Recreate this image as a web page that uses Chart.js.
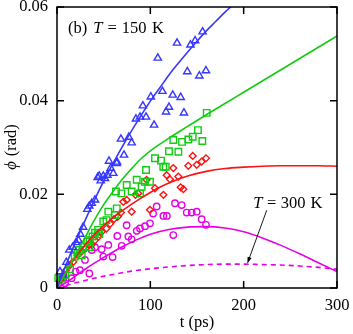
<!DOCTYPE html>
<html><head><meta charset="utf-8">
<script src="https://cdn.jsdelivr.net/npm/chart.js@4.4.1/dist/chart.umd.min.js"></script>
<style>html,body{margin:0;padding:0;background:#fff;}#wrap{width:353px;height:334px;position:relative;}</style>
</head><body><div id="wrap"><canvas id="c" width="353" height="334"></canvas></div>
<script>
// ---- tick labels ----
const xTicks = [0, 100, 200, 300];
const yTicks = [0, 0.02, 0.04, 0.06];

// ---- measured points (t in ps, phi in rad) ----
const triT = [3.2,6.8,10,13.2,16.8,20.4,23,25,28,32.5,34.6,37.2,40.7,43.6,45.3,46.8,49.6,51.4,53.9,57.5,60.3,55.7,64,64.3,68.5,71.8,77,80,84.6,89,92,95.4,100.5,104,108,113,116.8,120,124,128.6,132.5,136,139.6,143,148,152.5,156,159.6];
const triPhi = [0.0035,0.0028,0.0055,0.0081,0.0087,0.0097,0.0102,0.0115,0.013,0.0168,0.0175,0.0181,0.0188,0.0236,0.0239,0.0229,0.0239,0.0234,0.0241,0.0256,0.0245,0.0271,0.0266,0.0269,0.0318,0.0284,0.0322,0.031,0.0361,0.0365,0.0389,0.0365,0.0408,0.0348,0.0491,0.042,0.0376,0.0386,0.0412,0.0523,0.0407,0.0374,0.0462,0.0519,0.0528,0.0453,0.0547,0.0464];

const sqT = [1.4,5,9,14,19,22,24,26.5,28,32.5,35,34.6,38,40.7,44,45.3,49.6,53,55,62,64,63.2,69,74.7,80,85.4,88.9,90.7,94.3,95.4,99.6,105,111.4,113.9,116.5,120,124.6,130,134,140.7,145.4,151,155.7,160.4];
const sqPhi = [0.0021,0.002,0.0028,0.004,0.0067,0.0075,0.0081,0.007,0.0088,0.0099,0.0102,0.0087,0.011,0.0118,0.0124,0.0115,0.0142,0.0145,0.0163,0.0156,0.017,0.0206,0.0202,0.022,0.0206,0.0231,0.0202,0.0216,0.0227,0.0252,0.0227,0.0277,0.0272,0.0259,0.0259,0.0292,0.0316,0.0291,0.0312,0.0317,0.0323,0.0337,0.0314,0.0374];

const diaT = [3,5,7,9.6,14,17.5,22,26.5,31,34,37,40.7,44.3,48,53,57,61,65,68.6,71,74.7,80,84,87,96,99.6,105,114,117.5,121,124.6,130,132.5,135.4,140.7,145.4,149.7,155,159.6];
const diaPhi = [0.0015,0.0021,0.0028,0.0038,0.0049,0.0056,0.007,0.0078,0.0085,0.0092,0.0092,0.0102,0.0109,0.012,0.0127,0.0137,0.0147,0.0152,0.0161,0.0184,0.0188,0.0163,0.0199,0.0202,0.0231,0.0167,0.0213,0.0199,0.0241,0.0232,0.0256,0.0238,0.0215,0.0211,0.0261,0.0282,0.0263,0.027,0.0277];

const cirT = [6.8,8.6,15.7,20,24.6,30,34.6,37.2,40.7,47.9,49.6,55,59.6,64.6,69.3,74.6,76.4,80,85.4,88.9,94.3,99.6,103,106.8,114,117.7,124.6,126.4,133.6,139,144.3,149.7,155,159.6];
const cirPhi = [0.0021,0.001,0.0021,0.0035,0.0038,0.006,0.0031,0.0081,0.0087,0.0083,0.0067,0.0092,0.0066,0.0111,0.009,0.0134,0.011,0.0104,0.0122,0.0127,0.0132,0.0138,0.0159,0.0174,0.0154,0.0154,0.0113,0.0181,0.0177,0.0161,0.0161,0.0163,0.0147,0.0135];

// ---- model curves ----
const blueLineT = [0,10,20,30,40,50,60,70,80,90,100,110,120,130,140,150,160,170,180,190];
const blueLinePhi = [0,0.0051,0.0099,0.0144,0.0187,0.0228,0.0266,0.0302,0.0336,0.0368,0.0399,0.0427,0.0455,0.0480,0.0504,0.0527,0.0549,0.0569,0.0589,0.0607];
const greenLineT = [0,10,20,30,40,50,60,70,80,90,100,120,140,160,180,200,220,240,260,280,300];
const greenLinePhi = [0,0.0035,0.0070,0.0108,0.0145,0.0178,0.0206,0.0232,0.0255,0.0276,0.0293,0.0320,0.0345,0.0370,0.0394,0.0418,0.0442,0.0466,0.0490,0.0514,0.0538];
const redLineT = [0,10,20,30,40,50,60,70,80,90,100,110,120,140,160,180,200,220,240,260,280,300];
const redLinePhi = [0,0.0036,0.0066,0.0092,0.0114,0.0133,0.0150,0.0165,0.0179,0.0192,0.0204,0.0215,0.0224,0.0239,0.0249,0.0255,0.0258,0.0260,0.0261,0.0261,0.0261,0.0260];
const magLineT = [0,10,20,30,40,50,60,70,80,90,100,120,140,160,180,200,220,240,260,280,300];
const magLinePhi = [0,0.0012,0.0026,0.0040,0.0053,0.0065,0.0077,0.0088,0.0098,0.0107,0.0115,0.0125,0.0130,0.0131,0.0128,0.0120,0.0107,0.0091,0.0073,0.0054,0.0035];
const magDashT = [0,20,40,60,80,100,120,140,160,180,200,220,240,260,280,300];
const magDashPhi = [0,0.0011,0.0021,0.0029,0.0036,0.0041,0.0045,0.0048,0.0050,0.0051,0.0051,0.0050,0.0049,0.0047,0.0044,0.0040];

// ---- annotations ----
const label150 = {t: 11.8, phi: 0.0544};
const label300 = {t: 210.3, phi: 0.0170};
const arrowFrom = {t: 224.7, phi: 0.0166};
const arrowTo = {t: 203.9, phi: 0.0052};

const BLUE = '#3737ff', GREEN = '#11cc11', RED = '#ff1111', MAG = '#e600e6';
const SERIF = '"Liberation Serif", "DejaVu Serif", serif';
const FS = 16.5;

const zip = (a, b) => a.map((v, i) => ({x: v, y: b[i]}));

function pts(t, p, style, color, r) {
  return {type: 'scatter', data: zip(t, p), showLine: false, pointStyle: style,
    pointRadius: r, pointHoverRadius: r, pointBorderWidth: 1.4,
    borderColor: color, backgroundColor: 'rgba(0,0,0,0)', clip: false, order: 2};
}
function line(t, p, color, dash) {
  return {type: 'line', data: zip(t, p), borderColor: color, borderWidth: 1.6,
    borderDash: dash || [], pointRadius: 0, fill: false, cubicInterpolationMode: 'monotone',
    clip: 0, order: 1};
}

function drawPieces(ctx, x, y, pieces) {
  let cx = x;
  for (const p of pieces) {
    if (p.gap) { cx += p.gap; continue; }
    ctx.font = (p.italic ? 'italic ' : '') + FS + 'px ' + SERIF;
    ctx.fillText(p.s, cx, y);
    cx += ctx.measureText(p.s).width;
  }
}

const decor = {
  id: 'decor',
  afterDraw(chart) {
    const ctx = chart.ctx, a = chart.chartArea;
    const xs = chart.scales.x, ys = chart.scales.y;
    ctx.save();
    ctx.strokeStyle = '#000'; ctx.lineWidth = 1.5;
    ctx.strokeRect(a.left, a.top, a.right - a.left, a.bottom - a.top);
    const L = 7;
    ctx.beginPath();
    xTicks.forEach(v => { const px = xs.getPixelForValue(v);
      ctx.moveTo(px, a.bottom); ctx.lineTo(px, a.bottom - L);
      ctx.moveTo(px, a.top); ctx.lineTo(px, a.top + L); });
    yTicks.forEach(v => { const py = ys.getPixelForValue(v);
      ctx.moveTo(a.left, py); ctx.lineTo(a.left + L, py);
      ctx.moveTo(a.right, py); ctx.lineTo(a.right - L, py); });
    ctx.stroke();

    ctx.fillStyle = '#000'; ctx.textBaseline = 'alphabetic'; ctx.textAlign = 'left';
    drawPieces(ctx, xs.getPixelForValue(label150.t), ys.getPixelForValue(label150.phi),
      [{s: '(b)'}, {gap: 6}, {s: 'T', italic: true}, {gap: 5}, {s: '='}, {gap: 5}, {s: '150'}, {gap: 5.5}, {s: 'K'}]);
    drawPieces(ctx, xs.getPixelForValue(label300.t), ys.getPixelForValue(label300.phi),
      [{s: 'T', italic: true}, {gap: 4.5}, {s: '='}, {gap: 4.5}, {s: '300'}, {gap: 5}, {s: 'K'}]);

    // arrow
    const x1 = xs.getPixelForValue(arrowFrom.t), y1 = ys.getPixelForValue(arrowFrom.phi);
    const x2 = xs.getPixelForValue(arrowTo.t), y2 = ys.getPixelForValue(arrowTo.phi);
    const ang = Math.atan2(y2 - y1, x2 - x1);
    ctx.lineWidth = 0.9;
    ctx.beginPath(); ctx.moveTo(x1, y1); ctx.lineTo(x2 - 4 * Math.cos(ang), y2 - 4 * Math.sin(ang)); ctx.stroke();
    ctx.beginPath();
    ctx.moveTo(x2, y2);
    ctx.lineTo(x2 - 7 * Math.cos(ang - 0.3), y2 - 7 * Math.sin(ang - 0.3));
    ctx.lineTo(x2 - 7 * Math.cos(ang + 0.3), y2 - 7 * Math.sin(ang + 0.3));
    ctx.closePath(); ctx.fill();

    // y axis title
    ctx.save();
    ctx.translate(16, (a.top + a.bottom) / 2);
    ctx.rotate(-Math.PI / 2);
    ctx.font = 'italic ' + FS + 'px ' + SERIF;
    const w1 = ctx.measureText('ϕ').width;
    ctx.font = FS + 'px ' + SERIF;
    const w2 = ctx.measureText(' (rad)').width;
    let sx = -(w1 + w2) / 2;
    ctx.font = 'italic ' + FS + 'px ' + SERIF; ctx.fillText('ϕ', sx, 0);
    ctx.font = FS + 'px ' + SERIF; ctx.fillText(' (rad)', sx + w1 + 1, 0);
    ctx.restore();
    ctx.restore();
  }
};

new Chart(document.getElementById('c'), {
  data: {datasets: [
    line(blueLineT, blueLinePhi, BLUE),
    line(greenLineT, greenLinePhi, GREEN),
    line(redLineT, redLinePhi, RED),
    line(magLineT, magLinePhi, MAG),
    line(magDashT, magDashPhi, MAG, [5, 4]),
    pts(triT, triPhi, 'triangle', BLUE, 4.2),
    pts(sqT, sqPhi, 'rect', GREEN, 4.6),
    pts(diaT, diaPhi, 'rectRot', RED, 3.4),
    pts(cirT, cirPhi, 'circle', MAG, 3.2)
  ]},
  options: {
    responsive: false, animation: false, devicePixelRatio: 1,
    layout: {padding: {left: 0, right: 16, top: 7, bottom: 0}},
    plugins: {legend: {display: false}, tooltip: {enabled: false}},
    scales: {
      x: {type: 'linear', position: 'bottom', min: 0, max: 300,
        afterFit: s => { s.height = 46; s.paddingLeft = 0; s.paddingRight = 0; },
        afterBuildTicks: s => { s.ticks = xTicks.map(v => ({value: v})); },
        grid: {display: false, drawTicks: false}, border: {display: false},
        ticks: {color: '#000', font: {family: SERIF, size: FS}, padding: 8, maxRotation: 0,
          callback: v => String(v)},
        title: {display: true, text: 't (ps)', color: '#000', font: {family: SERIF, size: FS},
          padding: {top: 0, bottom: 1}}
      },
      y: {type: 'linear', min: 0, max: 0.06,
        afterFit: s => { s.width = 57; s.paddingTop = 0; s.paddingBottom = 0; },
        afterBuildTicks: s => { s.ticks = yTicks.map(v => ({value: v})); },
        grid: {display: false, drawTicks: false}, border: {display: false},
        ticks: {color: '#000', font: {family: SERIF, size: FS}, padding: 9,
          callback: v => v === 0 ? '0' : v.toFixed(2)}
      }
    }
  },
  plugins: [decor]
});
</script></body></html>
